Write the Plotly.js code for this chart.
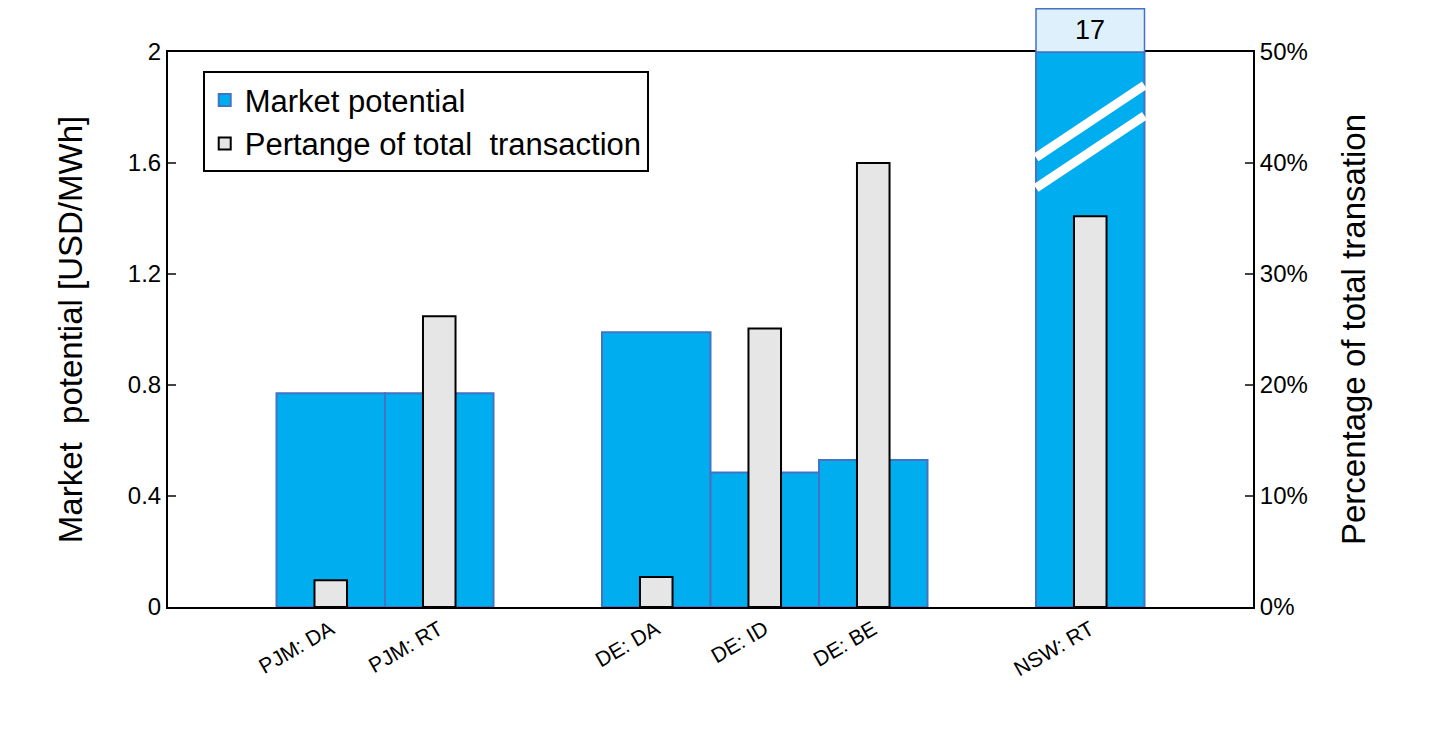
<!DOCTYPE html>
<html>
<head>
<meta charset="utf-8">
<script src="https://cdn.plot.ly/plotly-3.0.1.min.js"></script>
<style>body{margin:0;background:#fff}#chart{width:1447px;height:733px}</style>
</head>
<body>
<div id="chart"></div>
<script>
// slot positions of each market (gaps between groups are empty slots)
var slots = [1, 2, 4, 5, 6, 8];
var markets = ['PJM: DA', 'PJM: RT', 'DE: DA', 'DE: ID', 'DE: BE', 'NSW: RT'];
var potential = [0.77, 0.77, 0.99, 0.485, 0.53, 2.0];   // NSW clipped, real value 17
var share = [0.024, 0.262, 0.027, 0.251, 0.40, 0.352];

var blue = {
  x: slots, y: potential, type: 'bar', width: 1, name: 'Market potential',
  marker: {color: '#00AEEF', line: {color: '#4472C4', width: 2}}
};
var gray = {
  x: slots, y: share, type: 'bar', width: 0.3, yaxis: 'y2',
  name: 'Pertange of total  transaction',
  marker: {color: '#E6E6E6', line: {color: '#000', width: 2}}
};

var font = 'Helvetica, Liberation Sans, Arial, sans-serif';
var layout = {
  width: 1447, height: 733,
  margin: {l: 168, r: 194, t: 52, b: 126},
  barmode: 'overlay',
  showlegend: true,
  font: {family: font, color: '#000'},
  paper_bgcolor: '#fff', plot_bgcolor: '#fff',
  xaxis: {
    range: [-0.5, 9.5], tickmode: 'array', tickvals: slots, ticktext: markets,
    tickangle: -30, tickfont: {size: 21}, showgrid: false, zeroline: false,
    showline: true, linecolor: '#000', linewidth: 2, mirror: true, ticks: ''
  },
  yaxis: {
    range: [0, 2], dtick: 0.4, tickformat: '.1~f', ticks: 'inside', ticklen: 8,
    tickwidth: 2, showgrid: false, zeroline: false, tickfont: {size: 24},
    showline: true, linecolor: '#000', linewidth: 2,
    title: {text: 'Market  potential [USD/MWh]', font: {size: 33}, standoff: 35}
  },
  yaxis2: {
    overlaying: 'y', side: 'right', range: [0, 0.5], dtick: 0.1, tickformat: '.0%',
    ticks: 'inside', ticklen: 8, tickwidth: 2, showgrid: false, zeroline: false,
    tickfont: {size: 24}, showline: true, linecolor: '#000', linewidth: 2,
    title: {text: 'Percentage of total transation', font: {size: 33}, standoff: 35}
  },
  legend: {
    x: 0.032, y: 0.965, xanchor: 'left', yanchor: 'top',
    bordercolor: '#000', borderwidth: 2, bgcolor: '#fff',
    font: {size: 31}, tracegroupgap: 40, traceorder: 'normal',
    itemwidth: 30
  },
  shapes: [
    // broken-axis box above the NSW bar
    {type: 'rect', xref: 'x', yref: 'paper', x0: 7.5, x1: 8.5, y0: 1, y1: 1.078,
     fillcolor: '#DDF0FB', line: {color: '#4472C4', width: 1.5}},
    // white break stripes
    {type: 'line', xref: 'x', yref: 'y', x0: 7.5, x1: 8.5, y0: 1.62, y1: 1.88,
     line: {color: '#fff', width: 9}},
    {type: 'line', xref: 'x', yref: 'y', x0: 7.5, x1: 8.5, y0: 1.51, y1: 1.77,
     line: {color: '#fff', width: 9}}
  ],
  annotations: [
    {xref: 'x', yref: 'paper', x: 8, y: 1.039, yanchor: 'middle', text: '17',
     showarrow: false, font: {size: 27}}
  ]
};

Plotly.newPlot('chart', [blue, gray], layout, {displayModeBar: false});
</script>
</body>
</html>
